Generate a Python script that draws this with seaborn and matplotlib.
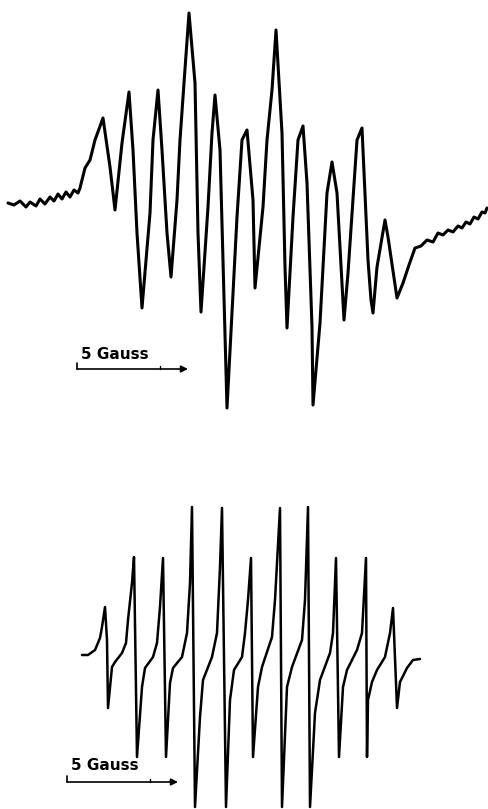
"""Redraw of two EPR spectra (scanned figure) with 5 Gauss scale bars."""
import matplotlib
matplotlib.use("Agg")
import matplotlib.pyplot as plt
import pandas as pd
import seaborn as sns

# upper trace, experimental spectrum (page pixels, y down)
top_x = [8, 14, 20, 26, 30, 36, 40, 45, 50, 54, 58, 62, 66, 70, 74, 78, 80,
         85, 90, 95, 103, 110, 115, 122, 129, 133, 137, 142, 150, 153, 158,
         162, 167, 171, 177, 180, 184, 189, 195, 198, 201, 208, 212, 215, 220,
         227, 237, 242, 247, 253, 255, 263, 267, 272, 276, 282, 285, 287, 293,
         298, 303, 307, 312, 313, 320, 327, 332, 337, 344, 348, 357, 362, 368,
         371, 373, 377, 385, 388, 397, 403, 409, 415, 421, 427, 433, 438, 443,
         448, 453, 458, 462, 466, 470, 474, 478, 482, 485, 487]
top_y = [203, 205, 201, 207, 202, 206, 199, 204, 197, 201, 194, 199, 192, 197,
         190, 193, 188, 168, 160, 140, 118, 167, 210, 143, 92, 150, 233, 308,
         213, 140, 90, 150, 233, 277, 200, 140, 83, 13, 83, 233, 312, 207, 133,
         95, 150, 408, 217, 140, 130, 200, 288, 207, 140, 90, 30, 133, 267, 328,
         217, 140, 126, 183, 327, 405, 323, 193, 162, 193, 320, 273, 140, 128,
         260, 300, 313, 267, 220, 237, 298, 283, 265, 248, 246, 240, 242, 233,
         235, 230, 232, 226, 228, 222, 224, 217, 219, 212, 213, 208]

# lower trace, simulated spectrum
bot_x = [82, 88, 95, 100, 102, 105, 107, 108, 112, 115, 122, 126, 128, 132,
         134, 137, 142, 145, 153, 157, 160, 163, 166, 170, 173, 182, 187, 190,
         192, 195, 200, 203, 212, 217, 220, 222, 226, 230, 234, 242, 245, 248,
         251, 253, 258, 262, 272, 275, 280, 282, 287, 292, 302, 305, 308, 310,
         315, 320, 330, 333, 336, 339, 343, 347, 357, 362, 366, 367, 368, 372,
         377, 385, 390, 393, 397, 400, 407, 413, 420]
bot_y = [655, 655, 650, 638, 627, 607, 640, 708, 667, 662, 653, 643, 620, 583,
         557, 757, 687, 668, 657, 643, 607, 558, 757, 683, 668, 657, 633, 583,
         507, 807, 717, 680, 657, 633, 567, 508, 807, 700, 670, 657, 633, 600,
         558, 757, 687, 667, 637, 600, 508, 807, 687, 667, 640, 600, 507, 807,
         713, 680, 653, 633, 558, 757, 687, 670, 650, 633, 558, 757, 700, 682,
         670, 657, 633, 608, 708, 682, 668, 660, 659]

scale_label = "5 Gauss"
# scale bars: (x_start, x_end, x_tick, y_line, y_text)
scale_bars = [(77, 188, 160, 369, 354), (67, 178, 150, 782, 766)]

sns.set_style("white")

fig = plt.figure(figsize=(4.89, 8.09), dpi=100)
ax = fig.add_axes([0, 0, 1, 1])

df_top = pd.DataFrame({"x": top_x, "y": top_y})
df_bot = pd.DataFrame({"x": bot_x, "y": bot_y})
sns.lineplot(data=df_top, x="x", y="y", sort=False, estimator=None,
             color="black", lw=2.2, ax=ax)
sns.lineplot(data=df_bot, x="x", y="y", sort=False, estimator=None,
             color="black", lw=1.8, ax=ax)

for x0, x1, xt, yl, yt in scale_bars:
    ax.annotate("", xy=(x1, yl), xytext=(x0, yl),
                arrowprops=dict(arrowstyle="-|>", color="black", lw=1.2,
                                mutation_scale=10, shrinkA=0, shrinkB=0))
    ax.plot([x0, x0], [yl - 6, yl], color="black", lw=1.2)
    ax.plot([xt, xt], [yl - 3, yl], color="black", lw=1.0)
    ax.text(x0 + 4, yt, scale_label, fontsize=11, fontweight="bold",
            ha="left", va="center", color="black")

ax.set_xlim(0, 489)
ax.set_ylim(809, 0)
ax.axis("off")

fig.savefig("out.png", dpi=100, facecolor="white")
